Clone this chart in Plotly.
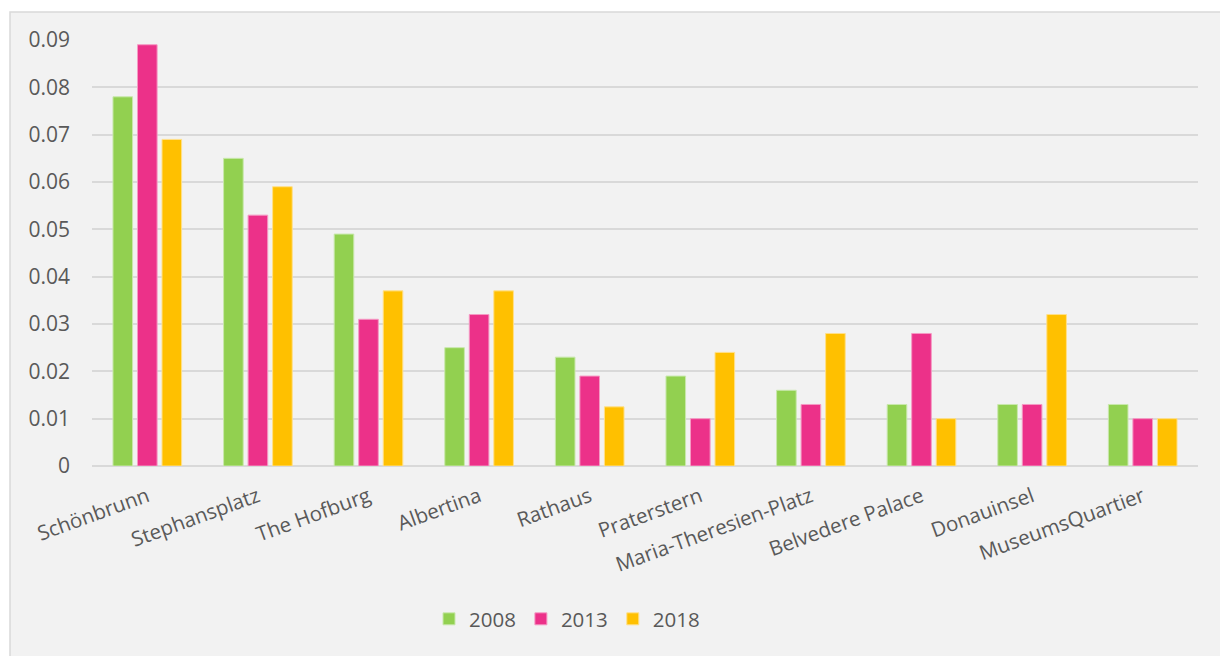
import plotly.graph_objects as go

# Share of visitor mentions per Vienna landmark, by survey year
places = [
    "Schönbrunn", "Stephansplatz", "The Hofburg", "Albertina", "Rathaus",
    "Praterstern", "Maria-Theresien-Platz", "Belvedere Palace", "Donauinsel",
    "MuseumsQuartier",
]
share_2008 = [0.078, 0.065, 0.049, 0.025, 0.023, 0.019, 0.016, 0.013, 0.013, 0.013]
share_2013 = [0.089, 0.053, 0.031, 0.032, 0.019, 0.010, 0.013, 0.028, 0.013, 0.010]
share_2018 = [0.069, 0.059, 0.037, 0.037, 0.0125, 0.024, 0.028, 0.010, 0.032, 0.010]

series_names = ["2008", "2013", "2018"]
series_colors = ["#92D050", "#EC3189", "#FFC000"]
outline_colors = ["#C9E8AC", "#F59AC4", "#FFE08A"]

y_ticks = [0, 0.01, 0.02, 0.03, 0.04, 0.05, 0.06, 0.07, 0.08, 0.09]
y_tick_text = ["0", "0.01", "0.02", "0.03", "0.04", "0.05", "0.06", "0.07", "0.08", "0.09"]

W, H = 1220, 656
L, R, T, B = 92, 22, 40, 190
pw, ph = W - L - R, H - T - B

text_color = "#595959"
grid_color = "#D9D9D9"
font_family = "Open Sans"

fig = go.Figure()
for name, vals, col, ocol in zip(series_names, [share_2008, share_2013, share_2018],
                                 series_colors, outline_colors):
    fig.add_trace(go.Bar(
        x=places, y=vals, name=name,
        marker=dict(color=col, line=dict(color=ocol, width=1)),
    ))


def px_to_paper_x(px):
    return (px - L) / pw


def px_to_paper_y(py):
    return (H - B - py) / ph


# Chart-area panel with a light border
fig.add_shape(
    type="rect", xref="paper", yref="paper", layer="below",
    x0=px_to_paper_x(10), x1=px_to_paper_x(W + 10),
    y0=px_to_paper_y(H + 10), y1=px_to_paper_y(12),
    fillcolor="#F2F2F2", line=dict(color=grid_color, width=1.5),
)

fig.update_layout(
    width=W, height=H,
    margin=dict(l=L, r=R, t=T, b=B),
    paper_bgcolor="white",
    plot_bgcolor="rgba(0,0,0,0)",
    barmode="group",
    bargap=0.335,
    bargroupgap=0.2,
    font=dict(family=font_family, color=text_color, size=20.5),
    showlegend=True,
    legend=dict(
        orientation="h", x=px_to_paper_x(567), xanchor="center",
        y=px_to_paper_y(619), yanchor="middle",
        font=dict(size=20.5, color=text_color),
        bgcolor="rgba(0,0,0,0)",
        itemwidth=30,
    ),
    xaxis=dict(
        tickangle=-20,
        showgrid=False, showline=False, zeroline=False,
        ticks="",
        ticklabelstandoff=14,
        tickfont=dict(size=20.5, color=text_color),
    ),
    yaxis=dict(
        range=[0, 0.09],
        tickvals=y_ticks, ticktext=y_tick_text,
        showgrid=True, gridcolor=grid_color, gridwidth=1.6,
        zeroline=True, zerolinecolor=grid_color, zerolinewidth=1.6,
        showline=False, ticks="",
        ticklabelstandoff=21,
        tickfont=dict(size=21, color=text_color),
    ),
)

fig.write_html("out.html")
